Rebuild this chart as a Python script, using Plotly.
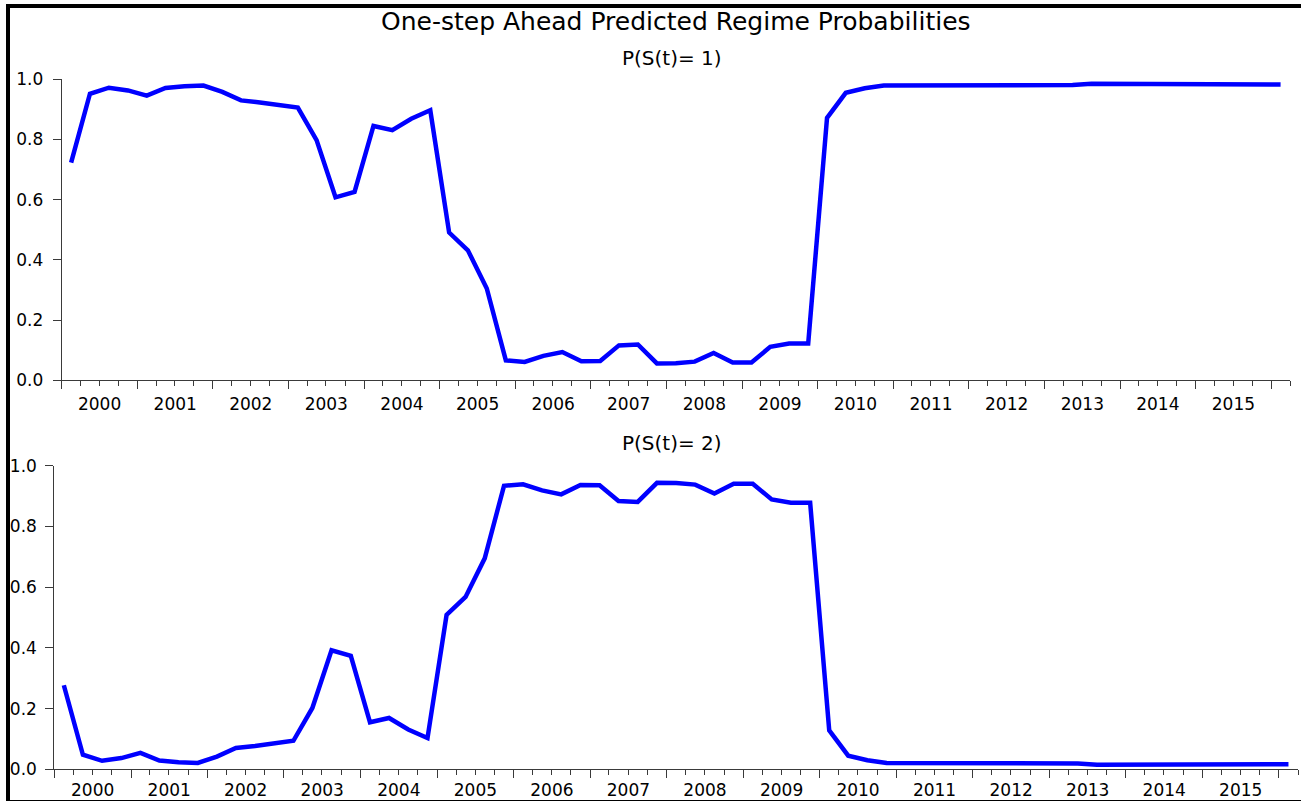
import pandas as pd
import plotly.graph_objects as go

# ---- data -------------------------------------------------------------
quarters = pd.period_range("2000Q1", "2016Q1", freq="Q")
prob_regime1 = [
    0.723, 0.952, 0.972, 0.963, 0.946, 0.971, 0.977, 0.979,
    0.958, 0.930, 0.923, 0.916, 0.906, 0.798, 0.608, 0.626,
    0.845, 0.831, 0.869, 0.897, 0.491, 0.432, 0.305, 0.066,
    0.061, 0.081, 0.094, 0.063, 0.064, 0.116, 0.119, 0.056,
    0.057, 0.062, 0.091, 0.059, 0.059, 0.111, 0.122, 0.122,
    0.872, 0.955, 0.970, 0.979, 0.979, 0.979, 0.979, 0.981,
    0.981, 0.981, 0.981, 0.981, 0.981, 0.981, 0.985, 0.985,
    0.985, 0.985, 0.985, 0.985, 0.985, 0.983, 0.983, 0.983,
    0.983,
]
prob_regime2 = [
    0.277, 0.048, 0.028, 0.037, 0.054, 0.029, 0.023, 0.021,
    0.042, 0.070, 0.077, 0.084, 0.094, 0.202, 0.392, 0.374,
    0.155, 0.169, 0.131, 0.103, 0.509, 0.568, 0.695, 0.934,
    0.939, 0.919, 0.906, 0.937, 0.936, 0.884, 0.881, 0.944,
    0.943, 0.938, 0.909, 0.941, 0.941, 0.889, 0.878, 0.878,
    0.128, 0.045, 0.030, 0.021, 0.021, 0.021, 0.021, 0.019,
    0.019, 0.019, 0.019, 0.019, 0.019, 0.019, 0.015, 0.015,
    0.015, 0.015, 0.015, 0.015, 0.015, 0.017, 0.017, 0.017,
    0.017,
]
y_ticks = [0.0, 0.2, 0.4, 0.6, 0.8, 1.0]
title_text = "One-step Ahead Predicted Regime Probabilities"
sub1_text = "P(S(t)= 1)"
sub2_text = "P(S(t)= 2)"

# x position: middle of each quarter
x_dates = [p.start_time + (p.end_time - p.start_time) / 2 for p in quarters]

W, H = 1301, 801
FONT = "DejaVu Sans"
AX = "#3a3a3a"
BLUE = "#0000ff"

fig = go.Figure()
fig.add_trace(go.Scatter(x=x_dates, y=prob_regime1, mode="lines",
                         line=dict(color=BLUE, width=4.5), xaxis="x", yaxis="y",
                         showlegend=False, hoverinfo="skip"))
fig.add_trace(go.Scatter(x=x_dates, y=prob_regime2, mode="lines",
                         line=dict(color=BLUE, width=4.5), xaxis="x2", yaxis="y2",
                         showlegend=False, hoverinfo="skip"))


def px_x(p):
    return p / W


def px_y(p):
    return 1 - p / H


def xaxis_cfg(x0, x1, anchor, standoff):
    return dict(
        domain=[px_x(x0), px_x(x1)], anchor=anchor, type="date",
        range=["2000-01-01", "2016-04-01"],
        tick0="2000-01-01", dtick="M12", ticklabelmode="period", tickformat="%Y",
        ticks="outside", ticklen=8, tickwidth=1, tickcolor=AX,
        minor=dict(dtick="M3", ticks="outside", ticklen=5, tickwidth=1, tickcolor=AX),
        showline=True, linecolor=AX, linewidth=1, showgrid=False, zeroline=False,
        tickfont=dict(family=FONT, size=17, color="black"),
        ticklabelstandoff=standoff, fixedrange=True, automargin=False,
    )


def yaxis_cfg(y0, y1, anchor, standoff):
    return dict(
        domain=[px_y(y1), px_y(y0)], anchor=anchor, range=[0, 1],
        tickvals=y_ticks, tickformat=".1f",
        ticks="outside", ticklen=8, tickwidth=1, tickcolor=AX,
        showline=True, linecolor=AX, linewidth=1, showgrid=False, zeroline=False,
        tickfont=dict(family=FONT, size=17, color="black"),
        ticklabelstandoff=standoff, fixedrange=True, automargin=False,
    )


fig.update_layout(
    template="none",
    width=W, height=H, margin=dict(l=0, r=0, t=0, b=0, autoexpand=False),
    paper_bgcolor="white", plot_bgcolor="white",
    xaxis=xaxis_cfg(61.7, 1290, "y", 0),
    yaxis=yaxis_cfg(79.3, 380.3, "x", 6),
    xaxis2=xaxis_cfg(54.3, 1298, "y2", -3),
    yaxis2=yaxis_cfg(465.8, 769.3, "x2", 5),
    showlegend=False,
    annotations=[
        dict(text=title_text, x=px_x(676), y=px_y(22), xref="paper", yref="paper",
             xanchor="center", yanchor="middle", showarrow=False,
             font=dict(family=FONT, size=25, color="black")),
        dict(text=sub1_text, x=px_x(671.5), y=px_y(58), xref="paper", yref="paper",
             xanchor="center", yanchor="middle", showarrow=False,
             font=dict(family=FONT, size=20, color="black")),
        dict(text=sub2_text, x=px_x(672), y=px_y(443), xref="paper", yref="paper",
             xanchor="center", yanchor="middle", showarrow=False,
             font=dict(family=FONT, size=20, color="black")),
    ],
    shapes=[
        dict(type="rect", xref="paper", yref="paper",
             x0=px_x(8), x1=px_x(1310), y0=px_y(6), y1=px_y(802),
             line=dict(color="black", width=4), fillcolor="rgba(0,0,0,0)", layer="below"),
    ],
)

fig.write_html("out.html", config={"displayModeBar": False},
               post_script="document.body.style.margin='0';document.body.style.overflow='hidden';")
